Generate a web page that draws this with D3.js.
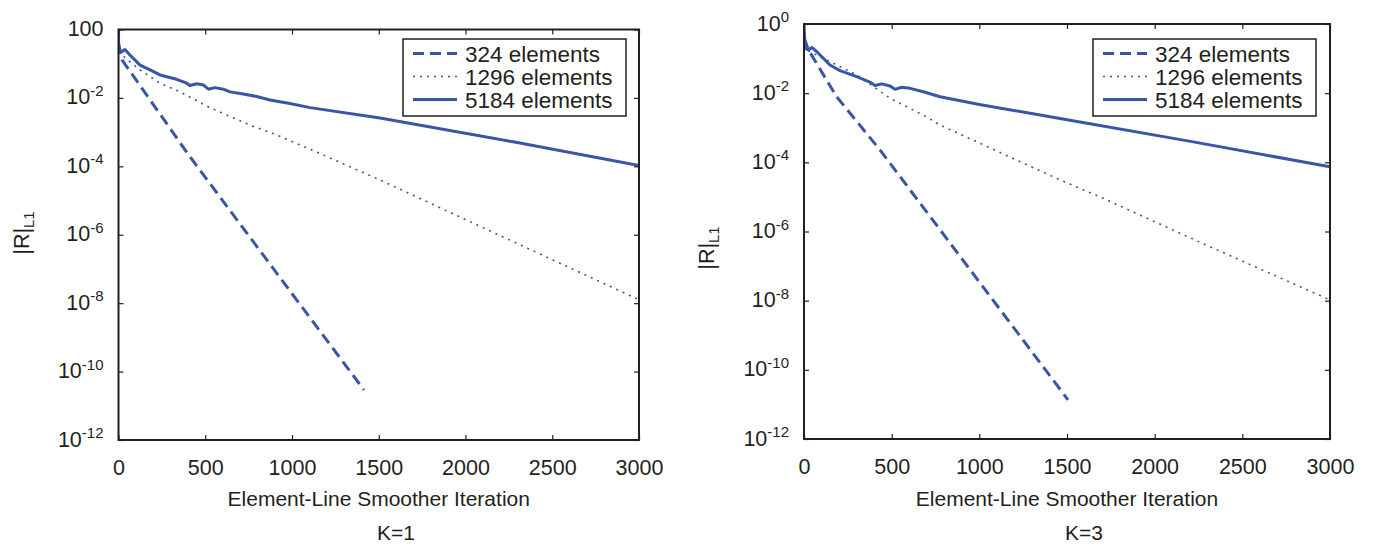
<!DOCTYPE html>
<html>
<head>
<meta charset="utf-8">
<script src="https://cdn.jsdelivr.net/npm/d3@7"></script>
<style>
  html, body { margin: 0; padding: 0; background: #fff; }
  svg { display: block; font-family: "Liberation Sans", Arial, Helvetica, sans-serif; }
</style>
</head>
<body>
<svg id="chart" width="1373" height="545"></svg>
<script>
// ---------------- DATA ----------------
const seriesNames = ["324 elements", "1296 elements", "5184 elements"];
const xTickValues = [0, 500, 1000, 1500, 2000, 2500, 3000];
const yTickValues = [1, 1e-2, 1e-4, 1e-6, 1e-8, 1e-10, 1e-12];
const yTickBaseK1 = ["100", "10", "10", "10", "10", "10", "10"];
const yTickExpK1 = ["", "-2", "-4", "-6", "-8", "-10", "-12"];
const yTickBaseK3 = ["10", "10", "10", "10", "10", "10", "10"];
const yTickExpK3 = ["0", "-2", "-4", "-6", "-8", "-10", "-12"];
const panelTitles = ["K=1", "K=3"];
const xAxisTitle = "Element-Line Smoother Iteration";

// K=1 panel
const k1Iter324 = [0, 20, 412, 1056, 1415];
const k1Val324 = [4e-1, 1.3e-1, 1.9e-4, 7.9e-9, 2.9e-11];
const k1Iter1296 = [0, 9, 66, 124, 239, 354, 527, 758, 912, 1085, 1507, 1738, 2250, 3000];
const k1Val1296 = [6e-1, 2.0e-1, 1.15e-1, 6.6e-2, 2.7e-2, 1.5e-2, 5.2e-3, 1.6e-3, 8.3e-4, 3.5e-4, 4.0e-5, 1.15e-5, 7.2e-7, 1.26e-8];
const k1Iter5184 = [0, 1, 18, 37, 66, 124, 182, 239, 335, 393, 412, 451, 489, 518, 556, 604, 643, 719, 796, 873, 988, 1104, 1507, 2275, 3000];
const k1Val5184 = [1, 2.6e-1, 2.25e-1, 2.6e-1, 1.8e-1, 9.1e-2, 6.6e-2, 4.7e-2, 3.5e-2, 2.7e-2, 2.3e-2, 2.6e-2, 2.4e-2, 1.8e-2, 2.0e-2, 1.8e-2, 1.5e-2, 1.3e-2, 1.1e-2, 8.7e-3, 6.9e-3, 5.2e-3, 2.6e-3, 5.2e-4, 1.05e-4];

// K=3 panel
const k3Iter324 = [0, 25, 186, 433, 1506];
const k3Val324 = [4e-1, 1.8e-1, 7.9e-3, 2.3e-4, 1.35e-11];
const k3Iter1296 = [0, 6, 72, 110, 205, 300, 396, 491, 681, 776, 1460, 1707, 2250, 3000];
const k3Val1296 = [6e-1, 1.9e-1, 1.26e-1, 1.02e-1, 5.9e-2, 3.4e-2, 1.55e-2, 7.1e-3, 2.3e-3, 1.2e-3, 3.1e-5, 9.1e-6, 5.1e-7, 1.05e-8];
const k3Iter5184 = [0, 6, 25, 44, 72, 110, 148, 205, 300, 376, 405, 443, 491, 519, 557, 605, 681, 776, 1000, 1460, 2221, 3000];
const k3Val5184 = [1, 2.0e-1, 1.78e-1, 2.1e-1, 1.6e-1, 1.02e-1, 6.5e-2, 4.5e-2, 3.0e-2, 2.1e-2, 1.66e-2, 1.86e-2, 1.62e-2, 1.29e-2, 1.48e-2, 1.38e-2, 1.1e-2, 7.9e-3, 4.7e-3, 1.86e-3, 3.9e-4, 7.4e-5];

// ---------------- LAYOUT / STYLE ----------------
const lineColor = "#3a55a6";
const axisColor = "#231f20";
const styles = [
  { width: 3, dash: "11,6" },
  { width: 1.6, dash: "2,5" },
  { width: 3, dash: null }
];

const panels = [
  { left: 118.5, right: 639, top: 29.5, bottom: 440, base: yTickBaseK1, exp: yTickExpK1, title: panelTitles[0], titleX: 396,
    legendX: 403, ylabX: 28.5, ylabY: 233,
    series: [[k1Iter324, k1Val324], [k1Iter1296, k1Val1296], [k1Iter5184, k1Val5184]] },
  { left: 804, right: 1330, top: 24, bottom: 439, base: yTickBaseK3, exp: yTickExpK3, title: panelTitles[1], titleX: 1084,
    legendX: 1093, ylabX: 714, ylabY: 248,
    series: [[k3Iter324, k3Val324], [k3Iter1296, k3Val1296], [k3Iter5184, k3Val5184]] }
];

const svg = d3.select("#chart");

panels.forEach(p => {
  const x = d3.scaleLinear().domain([0, 3000]).range([p.left, p.right]);
  const y = d3.scaleLog().domain([1e-12, 1]).range([p.bottom, p.top]);
  const g = svg.append("g");

  const clipId = "clip" + Math.round(p.left);
  svg.append("clipPath").attr("id", clipId).append("rect")
    .attr("x", p.left).attr("y", p.top).attr("width", p.right - p.left).attr("height", p.bottom - p.top);

  const line = d3.line().x(d => x(d[0])).y(d => y(d[1]));
  p.series.forEach((s, i) => {
    const pts = s[0].map((it, j) => [it, s[1][j]]);
    g.append("path").datum(pts)
      .attr("clip-path", `url(#${clipId})`)
      .attr("d", line)
      .attr("fill", "none")
      .attr("stroke", lineColor)
      .attr("stroke-width", styles[i].width)
      .attr("stroke-linejoin", "round")
      .attr("stroke-dasharray", styles[i].dash);
  });

  const axB = g.append("g").attr("transform", `translate(0,${p.bottom})`)
    .call(d3.axisBottom(x).tickValues(xTickValues).tickSizeInner(-5).tickSizeOuter(0).tickPadding(20).tickFormat(d3.format("d")));
  const axT = g.append("g").attr("transform", `translate(0,${p.top})`)
    .call(d3.axisTop(x).tickValues(xTickValues).tickSizeInner(-5).tickSizeOuter(0).tickFormat(""));
  const axL = g.append("g").attr("transform", `translate(${p.left},0)`)
    .call(d3.axisLeft(y).tickValues(yTickValues).tickSizeInner(-5).tickSizeOuter(0).tickFormat(""));
  const axR = g.append("g").attr("transform", `translate(${p.right},0)`)
    .call(d3.axisRight(y).tickValues(yTickValues).tickSizeInner(-5).tickSizeOuter(0).tickFormat(""));
  [axB, axT, axL, axR].forEach(a => {
    a.select(".domain").remove();
    a.selectAll(".tick line").attr("stroke", axisColor).attr("stroke-width", 1.2);
  });
  axB.selectAll(".tick text").attr("font-size", 21.5).attr("fill", axisColor)
    .attr("font-family", "Liberation Sans, Arial, sans-serif");

  g.append("rect").attr("x", p.left).attr("y", p.top)
    .attr("width", p.right - p.left).attr("height", p.bottom - p.top)
    .attr("fill", "none").attr("stroke", axisColor).attr("stroke-width", 2);

  yTickValues.forEach((v, i) => {
    const t = g.append("text")
      .attr("x", p.left - 15).attr("y", y(v) + 6.5)
      .attr("text-anchor", "end")
      .attr("font-size", 21.5).attr("fill", axisColor);
    t.append("tspan").text(p.base[i]);
    if (p.exp[i]) t.append("tspan").attr("dy", -8.5).attr("font-size", 15).text(p.exp[i]);
  });

  g.append("text").attr("x", (p.left + p.right) / 2).attr("y", 506)
    .attr("text-anchor", "middle").attr("font-size", 21).attr("fill", axisColor).text(xAxisTitle);
  g.append("text").attr("x", p.titleX).attr("y", 540)
    .attr("text-anchor", "middle").attr("font-size", 21).attr("fill", axisColor).text(p.title);

  const yl = g.append("text")
    .attr("transform", `translate(${p.ylabX},${p.ylabY}) rotate(-90)`)
    .attr("text-anchor", "middle").attr("font-size", 21.5).attr("fill", axisColor);
  yl.append("tspan").text("|R|");
  yl.append("tspan").attr("dy", 5).attr("font-size", 15).text("L1");

  const lx = p.legendX, ly = 39, lw = 223, lh = 77;
  g.append("rect").attr("x", lx).attr("y", ly).attr("width", lw).attr("height", lh)
    .attr("fill", "#fff").attr("stroke", axisColor).attr("stroke-width", 1.5);
  seriesNames.forEach((name, i) => {
    const cy = ly + 14.5 + i * 23;
    g.append("line").attr("x1", lx + 10).attr("x2", lx + 54).attr("y1", cy).attr("y2", cy)
      .attr("stroke", lineColor).attr("stroke-width", styles[i].width)
      .attr("stroke-dasharray", styles[i].dash);
    g.append("text").attr("x", lx + 62).attr("y", cy + 8)
      .attr("font-size", 22.5).attr("fill", axisColor).text(name);
  });
});
</script>
</body>
</html>
